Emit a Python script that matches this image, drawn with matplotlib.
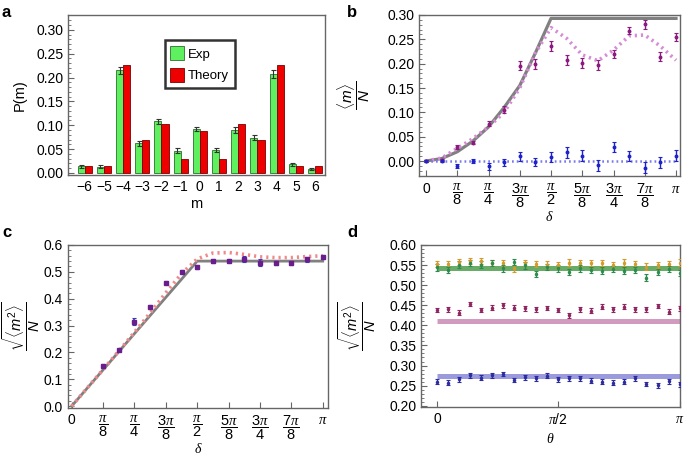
import numpy as np
import matplotlib
matplotlib.use("Agg")
import matplotlib.pyplot as plt
from matplotlib.ticker import MultipleLocator

plt.rcParams['font.family'] = ['Liberation Sans', 'DejaVu Sans']
plt.rcParams['mathtext.fontset'] = 'custom'
plt.rcParams['mathtext.rm'] = 'Liberation Sans'
plt.rcParams['mathtext.it'] = 'Liberation Serif:italic'
plt.rcParams['mathtext.sf'] = 'Liberation Sans:italic'
plt.rcParams['mathtext.bf'] = 'Liberation Sans:bold'

# ---------------- data ----------------
# panel a
m_vals = [-6, -5, -4, -3, -2, -1, 0, 1, 2, 3, 4, 5, 6]
p_exp = [0.014, 0.013, 0.215, 0.062, 0.108, 0.047, 0.092, 0.048, 0.090, 0.074, 0.207, 0.018, 0.009]
p_exp_err = [0.003, 0.003, 0.008, 0.005, 0.006, 0.005, 0.005, 0.004, 0.006, 0.005, 0.008, 0.003, 0.002]
p_theory = [0.015, 0.015, 0.226, 0.069, 0.103, 0.029, 0.087, 0.029, 0.103, 0.069, 0.226, 0.015, 0.015]

# panel b (delta in units of pi/16)
b_k = list(range(17))
b_purple = [0.0, 0.002, 0.028, 0.038, 0.077, 0.105, 0.196, 0.199, 0.237, 0.207, 0.201,
            0.197, 0.220, 0.268, 0.281, 0.214, 0.255]
b_purple_err = [0.002, 0.002, 0.004, 0.004, 0.006, 0.007, 0.010, 0.010, 0.010, 0.010, 0.010,
                0.010, 0.009, 0.008, 0.009, 0.009, 0.009]
b_blue = [0.0, 0.0, -0.011, 0.0, -0.011, -0.003, 0.010, -0.002, 0.008, 0.018, 0.011,
          -0.009, 0.029, 0.011, -0.014, -0.003, 0.011]
b_blue_err = [0.002, 0.002, 0.004, 0.005, 0.007, 0.007, 0.009, 0.009, 0.010, 0.011, 0.011,
              0.011, 0.010, 0.010, 0.011, 0.011, 0.011]
b_gray_k = [0, 1, 2, 3, 4, 5, 6, 7, 8, 16]
b_gray = [0.0, 0.005, 0.019, 0.041, 0.070, 0.110, 0.155, 0.222, 0.293, 0.293]
b_pink = [0.0, 0.006, 0.026, 0.046, 0.070, 0.100, 0.150, 0.222, 0.274, 0.252, 0.218,
          0.206, 0.228, 0.257, 0.259, 0.236, 0.207]
b_blue_theory = [0.0] * 17

# panel c
c_k = list(range(2, 17))
c_exp = [0.150, 0.209, 0.314, 0.370, 0.460, 0.501, 0.518, 0.540, 0.541, 0.548, 0.534,
         0.532, 0.532, 0.547, 0.554]
c_err = [0.006, 0.005, 0.013, 0.006, 0.006, 0.007, 0.008, 0.006, 0.006, 0.010, 0.013,
         0.007, 0.007, 0.010, 0.007]
c_gray_k = [0, 8, 16]
c_gray = [0.0, 0.54, 0.54]
c_pink = [0.0, 0.068, 0.136, 0.205, 0.275, 0.347, 0.422, 0.493, 0.548, 0.570, 0.572,
          0.565, 0.556, 0.553, 0.553, 0.557, 0.560]

# panel d (theta in units of pi/22)
d_k = list(range(23))
d_orange = [0.553, 0.553, 0.558, 0.560, 0.560, 0.555, 0.555, 0.542, 0.555, 0.553, 0.551,
            0.550, 0.556, 0.555, 0.555, 0.555, 0.550, 0.556, 0.553, 0.546, 0.550, 0.553, 0.556]
d_green = [0.544, 0.538, 0.551, 0.555, 0.551, 0.555, 0.542, 0.558, 0.549, 0.528, 0.545,
           0.542, 0.533, 0.542, 0.538, 0.536, 0.540, 0.536, 0.538, 0.519, 0.533, 0.540, 0.531]
d_purple = [0.438, 0.440, 0.431, 0.453, 0.438, 0.444, 0.450, 0.444, 0.442, 0.440, 0.443,
            0.438, 0.425, 0.440, 0.436, 0.446, 0.440, 0.446, 0.440, 0.440, 0.448, 0.434, 0.442]
d_blue = [0.260, 0.257, 0.266, 0.276, 0.270, 0.276, 0.279, 0.264, 0.271, 0.268, 0.275,
          0.266, 0.268, 0.268, 0.262, 0.260, 0.257, 0.260, 0.268, 0.254, 0.251, 0.261, 0.253]
d_err_top = 0.008
d_err_low = 0.006
d_levels = [0.543, 0.411, 0.275]

frac_labels = ['0', r'$\dfrac{\pi}{8}$', r'$\dfrac{\pi}{4}$', r'$\dfrac{3\pi}{8}$', r'$\dfrac{\pi}{2}$',
               r'$\dfrac{5\pi}{8}$', r'$\dfrac{3\pi}{4}$', r'$\dfrac{7\pi}{8}$', r'$\pi$']

FRAME = '#666666'
TICKFS = 10

fig = plt.figure(figsize=(6.85, 4.59), dpi=100)


def style(ax):
    for s in ax.spines.values():
        s.set_color(FRAME)
        s.set_linewidth(1.0)
    ax.tick_params(direction='in', length=4, width=0.8, color=FRAME, labelsize=TICKFS,
                   top=False, right=False)
    ax.tick_params(which='minor', direction='in', length=2, width=0.6, color=FRAME,
                   top=False, right=False)


def W(rect):
    l, t, r, b = rect
    return [l / 685, 1 - b / 459, (r - l) / 685, (b - t) / 459]


def set_frac_ticks(ax):
    ax.set_xticks(np.arange(9) * np.pi / 8)
    ax.set_xticklabels(frac_labels, fontsize=10.5)
    ax.tick_params(axis='x', pad=4)
    ax.get_xticklabels()[0].set_fontsize(TICKFS)


# ---------------- panel a ----------------
ax = fig.add_axes(W((68, 15, 325, 175)))
style(ax)
x = np.array(m_vals)
bw = 0.37
ax.bar(x - bw / 2, p_exp, bw, color='#5EF05E', edgecolor='#2E6E2E', linewidth=0.6,
       label='Exp', zorder=2)
ax.bar(x + bw / 2, p_theory, bw, color='#EE0000', edgecolor='#7A0000', linewidth=0.6,
       label='Theory', zorder=2)
ax.errorbar(x - bw / 2, p_exp, yerr=p_exp_err, fmt='none', ecolor='#333333', elinewidth=0.8,
            capsize=1.8, capthick=0.8, zorder=3)
ax.set_xlim(-6.87, 6.52)
ax.set_ylim(-0.0042, 0.331)
ax.set_xticks(m_vals)
ax.set_xticklabels([str(v).replace('-', '\u2212') for v in m_vals])
ax.tick_params(axis='x', length=0)
ax.yaxis.set_major_locator(MultipleLocator(0.05))
ax.yaxis.set_minor_locator(MultipleLocator(0.01))
ax.yaxis.set_major_formatter(matplotlib.ticker.FormatStrFormatter('%.2f'))
ax.set_ylabel('P(m)', fontsize=10.5)
ax.yaxis.set_label_coords(-0.16, 0.5)
ax.set_xlabel('m', fontsize=10.5, labelpad=2)
leg = ax.legend(loc='upper left', bbox_to_anchor=(0.35, 0.885), fontsize=9.5,
                frameon=True, fancybox=False, edgecolor='black', handlelength=1.0,
                handleheight=1.3, borderpad=0.45, labelspacing=0.55, handletextpad=0.3,
                shadow=False)
leg.get_frame().set_linewidth(1.8)

# ---------------- panel b ----------------
ax = fig.add_axes(W((419, 15, 680, 176)))
style(ax)
bx = np.array(b_k) * np.pi / 16
ax.plot(np.array(b_gray_k) * np.pi / 16, b_gray, color='#808080', lw=2.3, zorder=2)
ax.plot(bx, b_pink, color='#D58BD5', lw=2.6, ls=(0, (0.6, 1.1)), zorder=2)
ax.plot(bx, b_blue_theory, color='#7A7AF0', lw=1.8, ls=(0, (0.7, 1.2)), zorder=2)
ax.errorbar(bx, b_purple, yerr=b_purple_err, fmt='o', ms=1.8, color='#8A1A7E',
            ecolor='#8A1A7E', elinewidth=1.0, capsize=1.5, capthick=0.8, zorder=3)
ax.errorbar(bx, b_blue, yerr=b_blue_err, fmt='o', ms=1.8, color='#1E22C8',
            ecolor='#1E22C8', elinewidth=1.0, capsize=1.5, capthick=0.8, zorder=3)
ax.set_xlim(-0.088, np.pi + 0.05)
ax.set_ylim(-0.0308, 0.30)
set_frac_ticks(ax)
ax.yaxis.set_major_locator(MultipleLocator(0.05))
ax.yaxis.set_minor_locator(MultipleLocator(0.01))
ax.yaxis.set_major_formatter(matplotlib.ticker.FormatStrFormatter('%.2f'))
ax.set_ylabel(r'$\dfrac{\langle \mathsf{m}\rangle}{\mathsf{N}}$', fontsize=11)
ax.yaxis.set_label_coords(-0.18, 0.5)
ax.set_xlabel(r'$\delta$', fontsize=10, labelpad=0)

# ---------------- panel c ----------------
ax = fig.add_axes(W((67.7, 245, 328, 407.7)))
style(ax)
cx = np.array(c_k) * np.pi / 16
ax.plot(np.array(c_gray_k) * np.pi / 16, c_gray, color='#808080', lw=2.0, zorder=2)
ax.plot(np.arange(17) * np.pi / 16, c_pink, color='#F08A8A', lw=2.6, ls=(0, (0.6, 1.1)),
        zorder=2)
ax.errorbar(cx, c_exp, yerr=c_err, fmt='none', ecolor='#3A3AB8', elinewidth=1.2,
            capsize=1.5, capthick=0.8, zorder=3)
ax.plot(cx, c_exp, 's', ms=2.4, color='#6A1E8E', zorder=4)
ax.set_xlim(-0.05, np.pi + 0.066)
ax.set_ylim(-0.006, 0.6)
set_frac_ticks(ax)
ax.yaxis.set_major_locator(MultipleLocator(0.1))
ax.yaxis.set_minor_locator(MultipleLocator(0.02))
ax.yaxis.set_major_formatter(matplotlib.ticker.FormatStrFormatter('%.1f'))
ax.set_ylabel(r'$\dfrac{\sqrt{\langle \mathsf{m}^2\rangle}}{\mathsf{N}}$', fontsize=10.5)
ax.yaxis.set_label_coords(-0.10, 0.5)
ax.set_xlabel(r'$\delta$', fontsize=10, labelpad=0)

# ---------------- panel d ----------------
ax = fig.add_axes(W((421, 245, 680, 406.7)))
style(ax)
dx = np.array(d_k) * np.pi / 22
line_cols = ['#4E9E4E', '#C98AB4', '#8888D8']
for lvl, col in zip(d_levels, line_cols):
    ax.plot([0, np.pi], [lvl, lvl], color=col, lw=3.6, alpha=0.85, zorder=2,
            solid_capstyle='butt')
for vals, col, err in [(d_orange, '#D49A2A', d_err_top), (d_green, '#2E8B4E', d_err_top),
                       (d_purple, '#8E2460', d_err_low), (d_blue, '#2B2BA0', d_err_low)]:
    ax.errorbar(dx, vals, yerr=err, fmt='o', ms=1.5, color=col, ecolor=col,
                elinewidth=1.0, capsize=1.5, capthick=0.8, zorder=3)
ax.set_xlim(-0.21, np.pi + 0.006)
ax.set_ylim(0.1975, 0.60)
ax.set_xticks([0, np.pi / 2, np.pi])
ax.set_xticklabels(['0', r'$\pi$/2', r'$\pi$'], fontsize=TICKFS)
ax.yaxis.set_major_locator(MultipleLocator(0.05))
ax.yaxis.set_minor_locator(MultipleLocator(0.01))
ax.yaxis.set_major_formatter(matplotlib.ticker.FormatStrFormatter('%.2f'))
ax.set_ylabel(r'$\dfrac{\sqrt{\langle \mathsf{m}^2\rangle}}{\mathsf{N}}$', fontsize=10.5)
ax.yaxis.set_label_coords(-0.166, 0.5)
ax.set_xlabel(r'$\theta$', fontsize=10, labelpad=4)

# panel letters
for lab, (px, py) in zip('abcd', [(2, 17), (347, 17), (2, 237), (347, 237)]):
    fig.text(px / 685, 1 - py / 459, lab, fontsize=12, fontweight='bold', ha='left',
             va='baseline')

fig.savefig('out.png', dpi=100)
